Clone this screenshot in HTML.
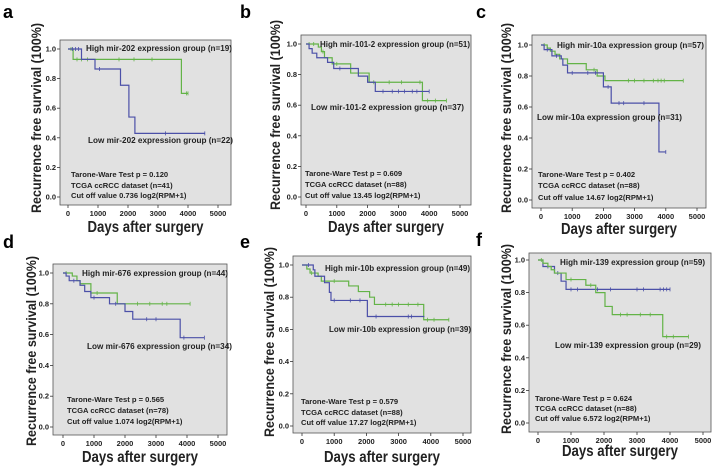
<!DOCTYPE html>
<html><head><meta charset="utf-8"><style>
html,body{margin:0;padding:0;background:#fff;}
svg{display:block;font-family:"Liberation Sans",Arial,sans-serif;}
</style></head><body>
<svg id="fig" width="714" height="468" viewBox="0 0 714 468"></svg>
<script>
// x-axis ticks (days) and y-axis ticks (survival)
const xTicks = [0,1000,2000,3000,4000,5000];
const yTicks = [0.0,0.2,0.4,0.6,0.8,1.0];

// Panel a
const aHiT = [170,3780]; const aHiS = [0.93,0.70]; const aHiEnd = 4000; const aHiC = [100,300,450,650,1700,2200,2800,3950,4000];
const aLoT = [450,900,1750,2030,2230]; const aLoS = [0.93,0.865,0.755,0.54,0.43]; const aLoEnd = 4560; const aLoC = [150,250,350,1050,3250,4560];
// Panel b
const bHiT = [400,500,600,850,1450,2050,3780]; const bHiS = [0.98,0.95,0.91,0.87,0.81,0.75,0.63]; const bHiEnd = 4560; const bHiC = [100,250,550,1000,2200,2700,3100,3700,3950,4200,4560];
const bLoT = [100,200,350,700,900,1700,2000,2250]; const bLoS = [0.97,0.94,0.91,0.88,0.84,0.79,0.75,0.69]; const bLoEnd = 4000; const bLoC = [1100,2500,2800,3000,3200,3450,3600,4000];
// Panel c
const cHiT = [200,300,450,600,850,1450,1800,2050]; const cHiS = [0.98,0.96,0.94,0.91,0.88,0.84,0.80,0.77]; const cHiEnd = 4560; const cHiC = [100,1700,2800,3000,3300,3600,3750,3850,3950,4560];
const cLoT = [100,350,650,700,850,2000,2250,3780]; const cLoS = [0.97,0.93,0.91,0.87,0.82,0.73,0.625,0.31]; const cLoEnd = 4000; const cLoC = [200,500,1000,1500,1750,2150,2500,2650,3300,4000];
// Panel d
const dHiT = [300,450,550,900,1750]; const dHiS = [0.98,0.95,0.93,0.87,0.80]; const dHiEnd = 4100; const dHiC = [100,1100,2400,2800,3200,3350,4100];
const dLoT = [100,200,550,700,900,1500,2000,2250,3780]; const dLoS = [0.98,0.95,0.92,0.88,0.84,0.80,0.75,0.70,0.58]; const dLoEnd = 4560; const dLoC = [350,1000,1700,2700,3000,3900,4560];
// Panel e
const eHiT = [150,250,500,600,1450,1750,2100,2250,3780]; const eHiS = [0.975,0.95,0.93,0.90,0.87,0.835,0.80,0.755,0.66]; const eHiEnd = 4560; const eHiC = [300,1000,2600,2800,3000,3300,3600,3900,4100,4560];
const eLoT = [350,400,700,850,900,2030]; const eLoS = [0.97,0.93,0.89,0.83,0.78,0.68]; const eLoEnd = 3800; const eLoC = [200,1000,1500,1800,2300,3300,3400];
// Panel f
const fHiT = [150,500,700,850]; const fHiS = [0.96,0.92,0.87,0.82]; const fHiEnd = 4000; const fHiC = [300,600,1000,1200,1800,2200,3000,3200,3700,3800,3900,4000];
const fLoT = [150,300,400,500,850,1450,1750,2030,2250,3780]; const fLoS = [0.98,0.96,0.94,0.92,0.88,0.845,0.80,0.715,0.665,0.53]; const fLoEnd = 4560; const fLoC = [100,1000,1600,2500,2700,3100,3400,3900,4100,4560];

const GREEN = "#63b347", BLUE = "#4b50a8";
const NS = "http://www.w3.org/2000/svg";
const svg = document.getElementById("fig");
function mk(tag, attrs, parent){ const e=document.createElementNS(NS,tag); for(const k in attrs) e.setAttribute(k,attrs[k]); (parent||svg).appendChild(e); return e; }
function txt(s, attrs, parent){ const e=mk("text",attrs,parent); e.textContent=s; return e; }

function stepAt(T,S,t){ let v=1; for(let i=0;i<T.length;i++){ if(T[i]<=t) v=S[i]; } return v; }

function drawCurve(g, xs, ys, T, S, end, C, color, name){
  let d = "M"+xs(0)+","+ys(1);
  for(let i=0;i<T.length;i++){ d += " H"+xs(T[i])+" V"+ys(S[i]); }
  d += " H"+xs(end);
  const p = mk("path",{d:d,fill:"none",stroke:color,"stroke-width":1.2},g);
  
  
  for(const c of C){
    const v = stepAt(T,S,c);
    const m = mk("line",{x1:xs(c),x2:xs(c),y1:ys(v)-2,y2:ys(v)+2,stroke:color,"stroke-width":0.8},g);
    
    
  }
}

function panel(cfg){
  const g = mk("g",{});
  
  
  const xs = t => cfg.x0 + (cfg.x5-cfg.x0)*t/5000;
  const ys = v => cfg.y0 + (cfg.y1-cfg.y0)*v;
  const bg = mk("rect",{x:cfg.L,y:cfg.T,width:cfg.R-cfg.L,height:cfg.B-cfg.T,fill:"#e1e1e1",stroke:"#555","stroke-width":0.8},g);
  
  
  const lt = txt(cfg.letter,{x:cfg.lx,y:cfg.ly,"font-size":18,"font-weight":"bold",fill:"#000"},g);
  
  
  for(const t of yTicks){
    const y=ys(t);
    const tl = mk("line",{x1:cfg.L-3,x2:cfg.L,y1:y,y2:y,stroke:"#333","stroke-width":0.8},g);
    
    
    const lb = txt(t.toFixed(1),{x:cfg.L-4,y:y+2.5,"font-size":7.5,"font-weight":"bold","text-anchor":"end",fill:"#222"},g);
    
    
  }
  for(const t of xTicks){
    const x=xs(t);
    const tl = mk("line",{x1:x,x2:x,y1:cfg.B,y2:cfg.B+3,stroke:"#333","stroke-width":0.8},g);
    
    
    const lb = txt(String(t),{x:x,y:cfg.B+11,"font-size":7.5,"font-weight":"bold","text-anchor":"middle",fill:"#222"},g);
    
    
  }
  const yl = txt("Recurrence free survival (100%)",{x:0,y:0,"font-size":14,"font-weight":"bold","text-anchor":"middle",fill:"#222",transform:"translate("+cfg.ylx+","+cfg.yly+") rotate(-90)",textLength:190,lengthAdjust:"spacingAndGlyphs"},g);
  
  
  const xl = txt("Days after surgery",{x:(cfg.L+cfg.R)/2,y:cfg.xly,"font-size":16,"font-weight":"bold","text-anchor":"middle",fill:"#222",textLength:116,lengthAdjust:"spacingAndGlyphs"},g);
  
  
  drawCurve(g,xs,ys,cfg.hiT,cfg.hiS,cfg.hiEnd,cfg.hiC,cfg.hiColor,"high-group");
  drawCurve(g,xs,ys,cfg.loT,cfg.loS,cfg.loEnd,cfg.loC,cfg.loColor,"low-group");
  const h = txt(cfg.hiText,{x:cfg.hx,y:cfg.hy+3,"font-size":8,"font-weight":"bold",fill:"#222",textLength:cfg.hw,lengthAdjust:"spacingAndGlyphs"},g);
  
  
  const l = txt(cfg.loText,{x:cfg.lox,y:cfg.loy+3,"font-size":8,"font-weight":"bold",fill:"#222",textLength:cfg.lw,lengthAdjust:"spacingAndGlyphs"},g);
  
  
  cfg.stats.forEach((s,i)=>{
    const st = txt(s,{x:cfg.sx,y:cfg.sy[i]+3,"font-size":7.6,fill:"#222","font-weight":"bold"},g);
    
    
  });
}

panel({letter:"a",lx:3,ly:18,L:60,R:231,T:40,B:205,x0:68,x5:218,y0:197,y1:49,ylx:41,yly:118,xly:232,
 hiT:aHiT,hiS:aHiS,hiEnd:aHiEnd,hiC:aHiC,hiColor:GREEN,loT:aLoT,loS:aLoS,loEnd:aLoEnd,loC:aLoC,loColor:BLUE,
 hiText:"High mir-202 expression group (n=19)",hx:86,hy:48,hw:146,loText:"Low mir-202 expression group (n=22)",lox:88,loy:140,lw:145,
 stats:["Tarone-Ware Test p = 0.120","TCGA ccRCC dataset (n=41)","Cut off value 0.736 log2(RPM+1)"],sx:71,sy:[174,185,195]});
panel({letter:"b",lx:240,ly:18,L:301,R:471,T:35,B:205,x0:306,x5:460,y0:197,y1:44,ylx:280,yly:115,xly:232,
 hiT:bHiT,hiS:bHiS,hiEnd:bHiEnd,hiC:bHiC,hiColor:GREEN,loT:bLoT,loS:bLoS,loEnd:bLoEnd,loC:bLoC,loColor:BLUE,
 hiText:"High mir-101-2 expression group (n=51)",hx:320,hy:44,hw:150,loText:"Low mir-101-2 expression group (n=37)",lox:311,loy:107,lw:153,
 stats:["Tarone-Ware Test p = 0.609","TCGA ccRCC dataset (n=88)","Cut off value 13.45 log2(RPM+1)"],sx:305,sy:[173,184,195]});
panel({letter:"c",lx:476,ly:18,L:532,R:706,T:35,B:208,x0:541,x5:697,y0:200,y1:45,ylx:511,yly:118,xly:234,
 hiT:cHiT,hiS:cHiS,hiEnd:cHiEnd,hiC:cHiC,hiColor:GREEN,loT:cLoT,loS:cLoS,loEnd:cLoEnd,loC:cLoC,loColor:BLUE,
 hiText:"High mir-10a expression group (n=57)",hx:557,hy:45,hw:147,loText:"Low mir-10a expression group (n=31)",lox:537,loy:117,lw:145,
 stats:["Tarone-Ware Test p = 0.402","TCGA ccRCC dataset (n=88)","Cut off value 14.67 log2(RPM+1)"],sx:538,sy:[174,185,197]});
panel({letter:"d",lx:3,ly:248,L:53,R:227,T:264,B:435,x0:63,x5:218,y0:427,y1:273,ylx:36,yly:351,xly:462,
 hiT:dHiT,hiS:dHiS,hiEnd:dHiEnd,hiC:dHiC,hiColor:GREEN,loT:dLoT,loS:dLoS,loEnd:dLoEnd,loC:dLoC,loColor:BLUE,
 hiText:"High mir-676 expression group (n=44)",hx:82,hy:273,hw:146,loText:"Low mir-676 expression group (n=34)",lox:87,loy:346,lw:145,
 stats:["Tarone-Ware Test p = 0.565","TCGA ccRCC dataset (n=78)","Cut off value 1.074 log2(RPM+1)"],sx:67,sy:[399,410,421]});
panel({letter:"e",lx:240,ly:248,L:293,R:471,T:256,B:433,x0:302,x5:463,y0:426,y1:265,ylx:274,yly:342,xly:462,
 hiT:eHiT,hiS:eHiS,hiEnd:eHiEnd,hiC:eHiC,hiColor:GREEN,loT:eLoT,loS:eLoS,loEnd:eLoEnd,loC:eLoC,loColor:BLUE,
 hiText:"High mir-10b expression group (n=49)",hx:325,hy:268,hw:145,loText:"Low mir-10b expression group (n=39)",lox:329,loy:329,lw:142,
 stats:["Tarone-Ware Test p = 0.579","TCGA ccRCC dataset (n=88)","Cut off value 17.27 log2(RPM+1)"],sx:301,sy:[401,412,422]});
panel({letter:"f",lx:476,ly:246,L:529,R:711,T:253,B:432,x0:538,x5:703,y0:423,y1:260,ylx:511,yly:339,xly:456,
 hiT:fHiT,hiS:fHiS,hiEnd:fHiEnd,hiC:fHiC,hiColor:BLUE,loT:fLoT,loS:fLoS,loEnd:fLoEnd,loC:fLoC,loColor:GREEN,
 hiText:"High mir-139 expression group (n=59)",hx:560,hy:262,hw:145,loText:"Low mir-139 expression group (n=29)",lox:555,loy:345,lw:146,
 stats:["Tarone-Ware Test p = 0.624","TCGA ccRCC dataset (n=88)","Cut off value 6.572 log2(RPM+1)"],sx:535,sy:[398,408,418]});
</script>
</body></html>
